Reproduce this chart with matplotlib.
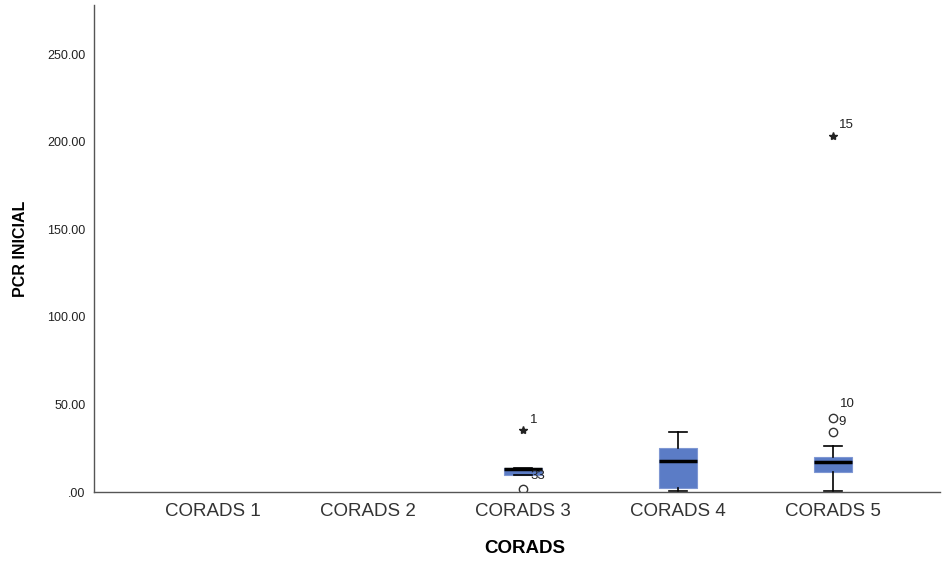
import matplotlib.pyplot as plt

plt.rcParams['font.family'] = ['Liberation Sans', 'DejaVu Sans']

# Box summaries for PCR inicial by CORADS group (groups 1 and 2 have no data)
categories = ["CORADS 1", "CORADS 2", "CORADS 3", "CORADS 4", "CORADS 5"]
positions = [3, 4, 5]
q1 = [9.8, 2.5, 11.5]
medians = [13.0, 17.8, 17.1]
q3 = [13.8, 25.2, 20.0]
whisker_low = [9.8, 0.5, 0.6]
whisker_high = [13.8, 34.2, 26.3]

# Mild outliers (circles) and extremes (stars) with their case labels
outliers = [[1.5], [], [42.2, 34.2]]
outlier_ids = [["33"], [], ["9", "10"]]
extremes = [[35.4], [], [203.2]]
extreme_ids = [["1"], [], ["15"]]

stats = []
for i in range(len(positions)):
    stats.append({
        "q1": q1[i], "med": medians[i], "q3": q3[i],
        "whislo": whisker_low[i], "whishi": whisker_high[i],
        "fliers": [],
    })

fig = plt.figure(figsize=(9.42, 5.63), dpi=100)
ax = fig.add_axes([0.0998, 0.126, 0.898, 0.865])

ax.bxp(stats, positions=positions, widths=0.25, patch_artist=True,
       showfliers=False,
       boxprops=dict(facecolor="#5B7CC6", edgecolor="#7f97d3", linewidth=0.8),
       medianprops=dict(color="black", linewidth=2.5),
       whiskerprops=dict(color="black", linewidth=1.2),
       capprops=dict(color="black", linewidth=1.2),
       capwidths=0.12)

# text offsets in points from each marked case
label_offsets = {"33": (5, 10), "9": (4, -3), "10": (5, 20), "1": (5, 7), "15": (4, 8)}
for pos, vals, ids in zip(positions, outliers, outlier_ids):
    for v, lab in zip(vals, ids):
        ax.plot(pos, v, marker="o", markersize=6, markerfacecolor="white",
                markeredgecolor="#333333", markeredgewidth=1, linestyle="none")
        ax.annotate(lab, (pos, v), xytext=label_offsets[lab], textcoords="offset points",
                    fontsize=9.5, color="#222222", va="center")
for pos, vals, ids in zip(positions, extremes, extreme_ids):
    for v, lab in zip(vals, ids):
        ax.plot(pos, v, marker="*", markersize=6, color="#222222", linestyle="none")
        ax.annotate(lab, (pos, v), xytext=label_offsets[lab], textcoords="offset points",
                    fontsize=9.5, color="#222222", va="center")

ax.set_xlim(0.232, 5.69)
ax.set_ylim(0, 278)
ax.set_xticks(range(1, 6))
ax.set_xticklabels(categories, fontsize=13.5, color="#333333")
yticks = [0, 50, 100, 150, 200, 250]
ax.set_yticks(yticks)
ax.set_yticklabels([".00"] + [f"{t:.2f}" for t in yticks[1:]], fontsize=9, color="#222222")
ax.tick_params(length=0, pad=8)
ax.tick_params(axis="y", pad=6)

for side in ["top", "right"]:
    ax.spines[side].set_visible(False)
for side in ["left", "bottom"]:
    ax.spines[side].set_color("#555555")
    ax.spines[side].set_linewidth(1)

ax.set_xlabel("CORADS", fontsize=13.5, fontweight="bold", labelpad=14)
ax.xaxis.label.set_x(0.509)
ax.set_ylabel("PCR INICIAL", fontsize=11.5, fontweight="bold", labelpad=14)

fig.savefig("out.png", dpi=100)
